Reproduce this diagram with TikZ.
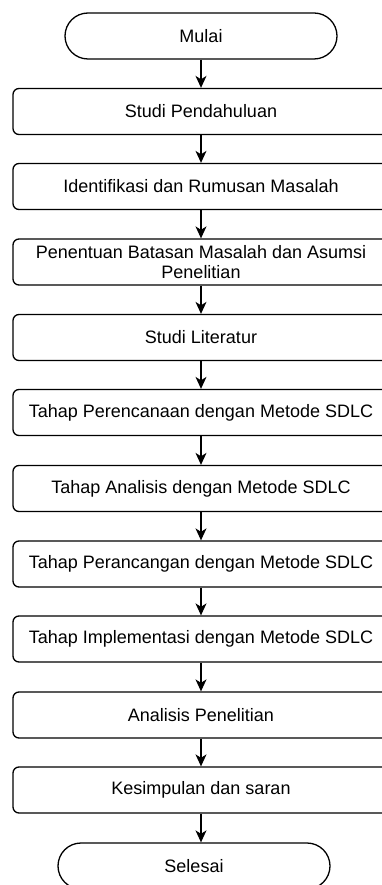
\documentclass[tikz,border=0pt]{standalone}
\usepackage{fontspec}
\setmainfont{Liberation Sans}
\usetikzlibrary{arrows.meta}
\begin{document}
\begin{tikzpicture}[x=1pt,y=-1pt,
  txt/.style={font=\fontsize{18}{20.5}\selectfont, text=black},
  box/.style={txt, draw, line width=1.3pt, rounded corners=6pt, minimum width=376pt, minimum height=46pt, inner sep=0pt, align=center},
  term/.style={txt, draw, line width=1.3pt, rounded corners=23pt, minimum width=272pt, minimum height=46pt, inner sep=0pt},
  arr/.style={-{Stealth[length=12pt,width=11pt,inset=3.5pt]}, line width=1.3pt}]
\useasboundingbox (0,0) rectangle (382,885);
\node[term] (start) at (201,36) {Mulai};
\node[box] (b1) at (201,111.5) {Studi Pendahuluan};
\node[box] (b2) at (201,186.5) {Identifikasi dan Rumusan Masalah};
\node[box] (b3) at (201,262) {Penentuan Batasan Masalah dan Asumsi\\Penelitian};
\node[box] (b4) at (201,337.5) {Studi Literatur};
\node[box] (b5) at (201,412.5) {Tahap Perencanaan dengan Metode SDLC};
\node[box] (b6) at (201,488.5) {Tahap Analisis dengan Metode SDLC};
\node[box] (b7) at (201,564) {Tahap Perancangan dengan Metode SDLC};
\node[box] (b8) at (201,639) {Tahap Implementasi dengan Metode SDLC};
\node[box] (b9) at (201,715) {Analisis Penelitian};
\node[box] (b10) at (201,790) {Kesimpulan dan saran};
\node[term] (end) at (194,866) {Selesai};
\draw[arr] (start) -- (b1);
\draw[arr] (b1) -- (b2);
\draw[arr] (b2) -- (b3);
\draw[arr] (b3) -- (b4);
\draw[arr] (b4) -- (b5);
\draw[arr] (b5) -- (b6);
\draw[arr] (b6) -- (b7);
\draw[arr] (b7) -- (b8);
\draw[arr] (b8) -- (b9);
\draw[arr] (b9) -- (b10);
\draw[arr] (b10.south) -- (b10.south |- end.north);
\end{tikzpicture}
\end{document}
